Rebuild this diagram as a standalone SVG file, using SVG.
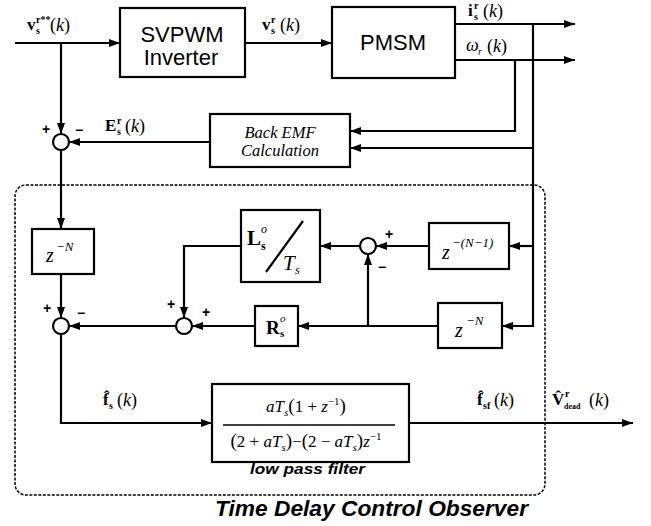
<svg xmlns="http://www.w3.org/2000/svg" width="651" height="526" viewBox="0 0 651 526">
<style>
.box{fill:#fff;stroke:#000;stroke-width:2.2}
.sum{fill:#fff;stroke:#000;stroke-width:2.2}
.ln{fill:none;stroke:#000;stroke-width:2.2}
.sans{font-family:"Liberation Sans",Arial,sans-serif;fill:#000}
.ser{font-family:"Liberation Serif","Times New Roman",serif;fill:#000}
.b{font-weight:bold}
.i{font-style:italic}
.sg{font-family:"Liberation Sans",Arial,sans-serif;font-weight:bold;font-size:14px}
</style>
<defs>
<marker id="ar" markerWidth="11" markerHeight="8" refX="11" refY="4" orient="auto" markerUnits="userSpaceOnUse">
<path d="M0,0 L11,4 L0,8 z" fill="#000"/>
</marker>
</defs>
<rect width="651" height="526" fill="#fff"/>

<g id="observer-frame">
<rect x="15" y="185" width="530" height="310" rx="11" fill="none" stroke="#000" stroke-width="1.5" stroke-dasharray="3 1.5"/>
<text class="sans b i" x="215" y="516" font-size="22" textLength="313" lengthAdjust="spacingAndGlyphs">Time Delay Control Observer</text>
</g>

<g id="connectors">
<path class="ln" d="M15,43 H120" marker-end="url(#ar)"/>
<path class="ln" d="M245,43 H332" marker-end="url(#ar)"/>
<path class="ln" d="M455,24 H575" marker-end="url(#ar)"/>
<path class="ln" d="M455,60 H575" marker-end="url(#ar)"/>
<path class="ln" d="M61,43 V134" marker-end="url(#ar)"/>
<path class="ln" d="M515,60 V131 H350" marker-end="url(#ar)"/>
<path class="ln" d="M533,24 V326 H502" marker-end="url(#ar)"/>
<path class="ln" d="M533,148 H350" marker-end="url(#ar)"/>
<path class="ln" d="M533,246 H509" marker-end="url(#ar)"/>
<path class="ln" d="M210,142 H69" marker-end="url(#ar)"/>
<path class="ln" d="M61,150 V229" marker-end="url(#ar)"/>
<path class="ln" d="M61,274 V318" marker-end="url(#ar)"/>
<path class="ln" d="M429,246 H376" marker-end="url(#ar)"/>
<path class="ln" d="M360,246 H320" marker-end="url(#ar)"/>
<path class="ln" d="M368,326 V254" marker-end="url(#ar)"/>
<path class="ln" d="M438,326 H298" marker-end="url(#ar)"/>
<path class="ln" d="M241,246 H184 V318" marker-end="url(#ar)"/>
<path class="ln" d="M255,326 H192" marker-end="url(#ar)"/>
<path class="ln" d="M176,326 H69" marker-end="url(#ar)"/>
<path class="ln" d="M61,334 V423 H212" marker-end="url(#ar)"/>
<path class="ln" d="M409,423 H633" marker-end="url(#ar)"/>
</g>

<g id="svpwm">
<rect class="box" x="120" y="8" width="125" height="69"/>
<text class="sans" x="182" y="42" font-size="22" text-anchor="middle">SVPWM</text>
<text class="sans" x="181" y="65" font-size="22" text-anchor="middle">Inverter</text>
</g>

<g id="pmsm">
<rect class="box" x="332" y="7" width="123" height="71"/>
<text class="sans" x="393" y="50" font-size="22" text-anchor="middle">PMSM</text>
</g>

<g id="backemf">
<rect class="box" x="210" y="114" width="140" height="53"/>
<text class="ser i" x="280" y="138" font-size="16.5" text-anchor="middle">Back EMF</text>
<text class="ser i" x="280" y="156" font-size="16.5" text-anchor="middle">Calculation</text>
</g>

<g id="sum1">
<circle class="sum" cx="61" cy="142" r="8"/>
<text class="sg" x="42" y="134">+</text>
<text class="sg" x="75" y="135">−</text>
</g>

<g id="zN-left">
<rect class="box" x="32" y="229" width="62" height="45"/>
<text class="ser i" x="46" y="262" font-size="20">z</text>
<text class="ser i" x="56" y="251" font-size="13">−N</text>
</g>

<g id="sum3">
<circle class="sum" cx="61" cy="326" r="8"/>
<text class="sg" x="43" y="313">+</text>
<text class="sg" x="77" y="318">−</text>
</g>

<g id="LT">
<rect class="box" x="241" y="210" width="79" height="72"/>
<text class="ser b" x="247" y="245" font-size="21">L</text>
<text class="ser i" x="261" y="233" font-size="12">o</text>
<text class="ser b" x="261" y="250" font-size="12">s</text>
<line x1="266" y1="272" x2="303" y2="221" stroke="#000" stroke-width="2.2"/>
<text class="ser i" x="283" y="270" font-size="21">T</text>
<text class="ser i" x="295" y="274" font-size="12">s</text>
</g>

<g id="sum-top">
<circle class="sum" cx="368" cy="246" r="8"/>
<text class="sg" x="385" y="239">+</text>
<text class="sg" x="378" y="272">−</text>
</g>

<g id="zN1">
<rect class="box" x="429" y="223" width="80" height="46"/>
<text class="ser i" x="442" y="259" font-size="20">z</text>
<text class="ser i" x="452" y="247" font-size="13">−(N−1)</text>
</g>

<g id="sum2">
<circle class="sum" cx="184" cy="326" r="8"/>
<text class="sg" x="167" y="309">+</text>
<text class="sg" x="202" y="317">+</text>
</g>

<g id="R">
<rect class="box" x="255" y="306" width="43" height="40"/>
<text class="ser b" x="266" y="334" font-size="19">R</text>
<text class="ser i" x="280" y="322" font-size="11">o</text>
<text class="ser b" x="280" y="337" font-size="11">s</text>
</g>

<g id="zN-right">
<rect class="box" x="438" y="303" width="64" height="45"/>
<text class="ser i" x="455" y="337" font-size="20">z</text>
<text class="ser i" x="466" y="325" font-size="13">−N</text>
</g>

<g id="filter">
<rect class="box" x="212" y="384" width="197" height="78"/>
<text class="ser i" x="306" y="412" font-size="17" text-anchor="middle">aT<tspan font-size="11" dy="4">s</tspan><tspan font-style="normal" font-size="19" dy="-4">(</tspan><tspan font-style="normal">1 + </tspan>z<tspan font-size="11" dy="-7" font-style="normal">−1</tspan><tspan font-style="normal" font-size="19" dy="7">)</tspan></text>
<line x1="223" y1="425" x2="395" y2="425" stroke="#000" stroke-width="1.6"/>
<text class="ser i" x="306" y="447" font-size="17" text-anchor="middle"><tspan font-style="normal" font-size="19">(</tspan><tspan font-style="normal">2 + </tspan>aT<tspan font-size="11" dy="4">s</tspan><tspan font-style="normal" font-size="19" dy="-4">)</tspan><tspan font-style="normal">−</tspan><tspan font-style="normal" font-size="19">(</tspan><tspan font-style="normal">2 − </tspan>aT<tspan font-size="11" dy="4">s</tspan><tspan font-style="normal" font-size="19" dy="-4">)</tspan>z<tspan font-size="11" dy="-7" font-style="normal">−1</tspan></text>
<text class="sans b i" x="250" y="474" font-size="14" textLength="115" lengthAdjust="spacingAndGlyphs">low pass filter</text>
</g>

<g id="labels">
<text class="ser b" x="27" y="30" font-size="17">v</text>
<text class="ser b" x="36" y="23" font-size="10">r**</text>
<text class="ser b" x="36" y="34" font-size="10">s</text>
<text class="ser" x="50" y="31" font-size="18">(<tspan class="i">k</tspan>)</text>

<text class="ser b" x="262" y="30" font-size="17">v</text>
<text class="ser b" x="271" y="23" font-size="10">r</text>
<text class="ser b" x="271" y="34" font-size="10">s</text>
<text class="ser" x="280" y="31" font-size="18">(<tspan class="i">k</tspan>)</text>

<text class="ser b" x="468" y="16" font-size="17">i</text>
<text class="ser b" x="474" y="9" font-size="10">r</text>
<text class="ser b" x="474" y="20" font-size="10">s</text>
<text class="ser" x="483" y="17" font-size="18">(<tspan class="i">k</tspan>)</text>

<text class="ser i" x="466" y="51" font-size="18">ω</text>
<text class="ser i" x="478" y="55" font-size="10">r</text>
<text class="ser" x="487" y="52" font-size="18">(<tspan class="i">k</tspan>)</text>

<text class="ser b" x="105" y="131" font-size="17">E</text>
<text class="ser b" x="117" y="124" font-size="10">r</text>
<text class="ser b" x="117" y="135" font-size="10">s</text>
<text class="ser" x="125" y="132" font-size="18">(<tspan class="i">k</tspan>)</text>

<text class="ser b" x="103" y="405" font-size="17">f&#x302;</text>
<text class="ser b" x="109" y="409" font-size="10">s</text>
<text class="ser" x="117" y="406" font-size="18">(<tspan class="i">k</tspan>)</text>

<text class="ser b" x="477" y="405" font-size="17">f&#x302;</text>
<text class="ser b" x="483" y="409" font-size="10">sf</text>
<text class="ser" x="494" y="406" font-size="18">(<tspan class="i">k</tspan>)</text>

<text class="ser b" x="552" y="405" font-size="17">V&#x302;</text>
<text class="ser b" x="565" y="397" font-size="10">r</text>
<text class="ser b" x="564" y="409" font-size="8">dead</text>
<text class="ser" x="589" y="406" font-size="18">(<tspan class="i">k</tspan>)</text>
</g>
</svg>
